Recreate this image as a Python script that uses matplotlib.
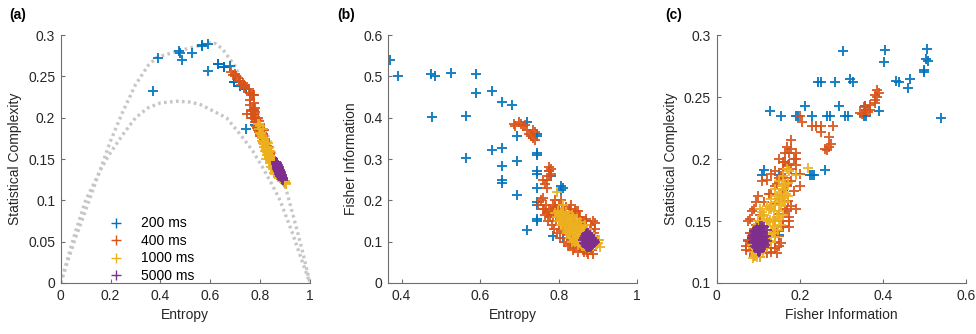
import matplotlib.pyplot as plt
from matplotlib.ticker import FixedLocator

plt.rcParams['font.family'] = ['Liberation Sans', 'DejaVu Sans']
plt.rcParams['font.size'] = 10

# boundary curves of the complexity-entropy plane
upper_h = [0, 0.03, 0.06, 0.1, 0.15, 0.2, 0.25, 0.3, 0.35, 0.385, 0.45, 0.5, 0.55, 0.6,
           0.62, 0.65, 0.7, 0.75, 0.8, 0.85, 0.9, 0.95, 0.975, 1.0]
upper_c = [0, 0.028, 0.055, 0.088, 0.13, 0.172, 0.208, 0.24, 0.263, 0.273, 0.279, 0.283, 0.287, 0.291,
           0.29, 0.283, 0.262, 0.232, 0.2, 0.165, 0.118, 0.062, 0.032, 0]
lower_h = [0, 0.03, 0.057, 0.1, 0.165, 0.2, 0.25, 0.3, 0.35, 0.4, 0.465, 0.52, 0.56, 0.6, 0.665,
           0.72, 0.77, 0.81, 0.85, 0.88, 0.93, 0.97, 1.0]
lower_c = [0, 0.032, 0.06, 0.1, 0.14, 0.158, 0.18, 0.2, 0.212, 0.218, 0.22, 0.219, 0.216, 0.21, 0.2,
           0.18, 0.16, 0.14, 0.118, 0.1, 0.06, 0.025, 0]

# 200 ms: entropy, statistical complexity, fisher information
h_200 = [0.37, 0.39, 0.475, 0.485, 0.478, 0.525, 0.565, 0.565, 0.59, 0.59, 0.63, 0.63, 0.655, 0.655,
         0.655, 0.655, 0.655, 0.68, 0.695, 0.695, 0.695, 0.72, 0.72, 0.745, 0.745, 0.745, 0.745,
         0.745, 0.745, 0.745, 0.745, 0.745, 0.745, 0.78, 0.785, 0.805, 0.81, 0.805, 0.81, 0.745, 0.87]
c_200 = [0.233, 0.272, 0.281, 0.27, 0.278, 0.279, 0.288, 0.287, 0.289, 0.257, 0.265, 0.265, 0.262, 0.262,
         0.262, 0.262, 0.262, 0.263, 0.243, 0.243, 0.243, 0.239, 0.239, 0.235, 0.235, 0.235, 0.235,
         0.235, 0.235, 0.235, 0.235, 0.235, 0.235, 0.191, 0.191, 0.187, 0.187, 0.187, 0.187, 0.187, 0.139]
f_200 = [0.54, 0.5, 0.505, 0.5, 0.402, 0.508, 0.405, 0.303, 0.507, 0.46, 0.465, 0.322, 0.438, 0.328,
         0.284, 0.25, 0.243, 0.432, 0.357, 0.295, 0.213, 0.39, 0.128, 0.36, 0.355, 0.315, 0.31,
         0.272, 0.265, 0.23, 0.195, 0.19, 0.155, 0.26, 0.113, 0.235, 0.23, 0.225, 0.11, 0.15, 0.15]

# 400 ms
h_400 = [0.685, 0.69, 0.70, 0.705, 0.71, 0.715, 0.72, 0.725, 0.73, 0.735, 0.74, 0.735, 0.74,
         0.755, 0.76, 0.77, 0.765, 0.77, 0.775, 0.775, 0.78, 0.775, 0.78, 0.775, 0.76,
         0.748, 0.760, 0.765, 0.770, 0.772, 0.775, 0.778, 0.780, 0.782, 0.785, 0.788, 0.790, 0.792,
         0.795, 0.798, 0.800, 0.803, 0.806, 0.810, 0.813, 0.816, 0.820, 0.824, 0.828, 0.832, 0.836,
         0.840, 0.845, 0.850, 0.855, 0.860, 0.865, 0.870, 0.875, 0.880, 0.885, 0.890, 0.895, 0.900,
         0.790, 0.795, 0.800, 0.805, 0.808, 0.812, 0.818, 0.822, 0.826, 0.830, 0.834, 0.838, 0.842,
         0.848, 0.852, 0.858, 0.862, 0.868, 0.872, 0.878, 0.882, 0.887, 0.892, 0.850, 0.840, 0.830,
         0.820, 0.810, 0.815, 0.800, 0.893, 0.888, 0.762, 0.768, 0.785, 0.790,
         0.828, 0.832, 0.805, 0.845, 0.855, 0.870]
c_400 = [0.256, 0.252, 0.253, 0.25, 0.248, 0.245, 0.244, 0.24, 0.242, 0.24, 0.238, 0.236, 0.237,
         0.235, 0.23, 0.227, 0.227, 0.227, 0.227, 0.218, 0.212, 0.208, 0.207, 0.21, 0.222,
         0.205, 0.215, 0.205, 0.210, 0.200, 0.205, 0.198, 0.195, 0.190, 0.198, 0.188, 0.192, 0.185,
         0.183, 0.180, 0.178, 0.182, 0.175, 0.172, 0.170, 0.168, 0.165, 0.160, 0.158, 0.155, 0.152,
         0.150, 0.147, 0.145, 0.140, 0.138, 0.135, 0.133, 0.130, 0.128, 0.126, 0.124, 0.122, 0.121,
         0.200, 0.196, 0.188, 0.186, 0.182, 0.178, 0.174, 0.170, 0.166, 0.164, 0.160, 0.156, 0.153,
         0.150, 0.146, 0.142, 0.140, 0.136, 0.134, 0.131, 0.128, 0.127, 0.125, 0.150, 0.158, 0.165,
         0.172, 0.180, 0.185, 0.192, 0.124, 0.130, 0.208, 0.200, 0.195, 0.188,
         0.162, 0.160, 0.178, 0.150, 0.145, 0.132]
f_400 = [0.385, 0.38, 0.39, 0.385, 0.38, 0.382, 0.37, 0.36, 0.355, 0.37, 0.365, 0.35, 0.345,
         0.2, 0.205, 0.23, 0.24, 0.25, 0.28, 0.27, 0.275, 0.26, 0.265, 0.27, 0.25,
         0.19, 0.18, 0.165, 0.170, 0.150, 0.175, 0.160, 0.172, 0.140, 0.165, 0.130, 0.178, 0.150,
         0.120, 0.165, 0.140, 0.110, 0.160, 0.125, 0.100, 0.150, 0.115, 0.090, 0.170, 0.105, 0.080,
         0.160, 0.095, 0.175, 0.085, 0.150, 0.075, 0.140, 0.070, 0.130, 0.080, 0.120, 0.090, 0.105,
         0.185, 0.175, 0.190, 0.155, 0.180, 0.170, 0.185, 0.160, 0.172, 0.140, 0.165, 0.150, 0.175,
         0.140, 0.160, 0.145, 0.080, 0.085, 0.075, 0.080, 0.140, 0.070, 0.130, 0.075, 0.085, 0.095,
         0.130, 0.145, 0.165, 0.160, 0.145, 0.150, 0.180, 0.190, 0.190, 0.200,
         0.180, 0.190, 0.200, 0.175, 0.160, 0.155]

# 1000 ms
h_1000 = [0.790, 0.795, 0.798, 0.800, 0.803, 0.806, 0.808, 0.810, 0.812, 0.815, 0.817, 0.820, 0.822,
          0.825, 0.827, 0.830, 0.832, 0.835, 0.837, 0.840, 0.842, 0.845, 0.847, 0.850, 0.852, 0.855,
          0.857, 0.860, 0.862, 0.865, 0.868, 0.870, 0.873, 0.876, 0.880, 0.884, 0.888, 0.892, 0.896,
          0.900, 0.904, 0.833, 0.795, 0.810, 0.845, 0.855, 0.825, 0.838,
          0.805, 0.812, 0.818, 0.822, 0.826, 0.828, 0.831, 0.834, 0.836, 0.839, 0.841, 0.843, 0.846,
          0.848, 0.851, 0.853, 0.856, 0.858, 0.861, 0.863, 0.866, 0.869, 0.871, 0.874, 0.877, 0.879,
          0.882, 0.886, 0.890, 0.894, 0.898, 0.902, 0.835, 0.828, 0.820, 0.815, 0.808, 0.850, 0.860,
          0.870]
c_1000 = [0.192, 0.186, 0.190, 0.182, 0.180, 0.176, 0.178, 0.172, 0.170, 0.168, 0.171, 0.165, 0.162,
          0.163, 0.158, 0.157, 0.160, 0.153, 0.152, 0.150, 0.148, 0.149, 0.145, 0.143, 0.146, 0.140,
          0.139, 0.138, 0.141, 0.135, 0.134, 0.132, 0.130, 0.131, 0.128, 0.127, 0.125, 0.124, 0.122,
          0.121, 0.120, 0.170, 0.193, 0.187, 0.140, 0.133, 0.150, 0.160,
          0.181, 0.176, 0.170, 0.168, 0.165, 0.161, 0.163, 0.158, 0.155, 0.154, 0.152, 0.151, 0.147,
          0.146, 0.145, 0.143, 0.142, 0.140, 0.139, 0.137, 0.137, 0.135, 0.133, 0.132, 0.130, 0.130,
          0.128, 0.126, 0.126, 0.124, 0.123, 0.121, 0.150, 0.155, 0.160, 0.165, 0.172, 0.138, 0.132,
          0.128]
f_1000 = [0.170, 0.160, 0.175, 0.150, 0.165, 0.140, 0.158, 0.168, 0.145, 0.130, 0.155, 0.160, 0.120,
          0.140, 0.150, 0.110, 0.130, 0.145, 0.120, 0.135, 0.100, 0.125, 0.140, 0.115, 0.105, 0.130,
          0.095, 0.120, 0.110, 0.090, 0.125, 0.100, 0.115, 0.085, 0.095, 0.108, 0.090, 0.100, 0.092,
          0.098, 0.088, 0.165, 0.220, 0.190, 0.110, 0.125, 0.120, 0.105,
          0.172, 0.162, 0.172, 0.150, 0.165, 0.128, 0.155, 0.138, 0.160, 0.110, 0.150, 0.128, 0.155,
          0.135, 0.098, 0.148, 0.112, 0.138, 0.128, 0.105, 0.140, 0.112, 0.130, 0.095, 0.122, 0.105,
          0.115, 0.100, 0.112, 0.105, 0.095, 0.104, 0.100, 0.115, 0.125, 0.140, 0.150, 0.092, 0.090,
          0.088]

# 5000 ms
h_5000 = [0.863, 0.865, 0.865, 0.867, 0.867, 0.867, 0.869, 0.869, 0.869, 0.869,
          0.871, 0.871, 0.871, 0.871, 0.873, 0.873, 0.873, 0.873, 0.875, 0.875, 0.875, 0.875,
          0.877, 0.877, 0.877, 0.877, 0.879, 0.879, 0.879, 0.879, 0.881, 0.881, 0.881, 0.881,
          0.883, 0.883, 0.883, 0.885, 0.885, 0.885, 0.887, 0.887, 0.887, 0.889, 0.889,
          0.891, 0.891, 0.893]
c_5000 = [0.146, 0.144, 0.146, 0.143, 0.141, 0.145, 0.142, 0.140, 0.144, 0.138,
          0.141, 0.139, 0.137, 0.143, 0.139, 0.137, 0.141, 0.135, 0.138, 0.136, 0.140, 0.134,
          0.136, 0.134, 0.138, 0.132, 0.135, 0.133, 0.137, 0.131, 0.133, 0.131, 0.135, 0.129,
          0.132, 0.130, 0.134, 0.130, 0.128, 0.132, 0.129, 0.127, 0.131, 0.128, 0.126,
          0.127, 0.125, 0.126]
f_5000 = [0.104, 0.098, 0.110, 0.094, 0.105, 0.114, 0.090, 0.100, 0.110, 0.118,
          0.092, 0.103, 0.113, 0.121, 0.088, 0.097, 0.107, 0.116, 0.090, 0.100, 0.110, 0.120,
          0.086, 0.095, 0.105, 0.114, 0.089, 0.099, 0.109, 0.117, 0.087, 0.096, 0.106, 0.113,
          0.090, 0.100, 0.110, 0.092, 0.103, 0.108, 0.094, 0.101, 0.098, 0.096, 0.104,
          0.099, 0.102, 0.100]

labels = ['200 ms', '400 ms', '1000 ms', '5000 ms']
colors = ['#0072BD', '#D95319', '#EDB120', '#7E2F8E']
series = [(h_200, c_200, f_200), (h_400, c_400, f_400),
          (h_1000, c_1000, f_1000), (h_5000, c_5000, f_5000)]

fig = plt.figure(figsize=(9.76, 3.34), dpi=100)
ax1 = fig.add_axes([0.0622, 0.1527, 0.2554, 0.742])
ax2 = fig.add_axes([0.3978, 0.1527, 0.2551, 0.742])
ax3 = fig.add_axes([0.7343, 0.1527, 0.2554, 0.742])

dots = (0, (0.8, 1.0))
ax1.plot(upper_h, upper_c, color='#c6c6c6', lw=2.4, ls=dots)
ax1.plot(lower_h, lower_c, color='#c6c6c6', lw=2.4, ls=dots)

handles = []
for (h, c, f), col, lab in zip(series, colors, labels):
    kw = dict(ls='none', marker='+', ms=7.5, mew=1.4, color=col, alpha=0.9)
    line, = ax1.plot(h, c, label=lab, **kw)
    ax2.plot(h, f, **kw)
    ax3.plot(f, c, **kw)
    handles.append(line)

ax1.set_xlim(0, 1)
ax1.set_ylim(0, 0.3)
ax1.xaxis.set_major_locator(FixedLocator([0, 0.2, 0.4, 0.6, 0.8, 1]))
ax1.set_xticklabels(['0', '0.2', '0.4', '0.6', '0.8', '1'])
ax1.yaxis.set_major_locator(FixedLocator([0, 0.05, 0.1, 0.15, 0.2, 0.25, 0.3]))
ax1.set_yticklabels(['0', '0.05', '0.1', '0.15', '0.2', '0.25', '0.3'])
ax1.set_xlabel('Entropy')
ax1.set_ylabel('Statistical Complexity')

ax2.set_xlim(0.366, 1)
ax2.set_ylim(0, 0.6)
ax2.xaxis.set_major_locator(FixedLocator([0.4, 0.6, 0.8, 1]))
ax2.set_xticklabels(['0.4', '0.6', '0.8', '1'])
ax2.yaxis.set_major_locator(FixedLocator([0, 0.1, 0.2, 0.3, 0.4, 0.5, 0.6]))
ax2.set_yticklabels(['0', '0.1', '0.2', '0.3', '0.4', '0.5', '0.6'])
ax2.set_xlabel('Entropy')
ax2.set_ylabel('Fisher Information')

ax3.set_xlim(0, 0.6)
ax3.set_ylim(0.1, 0.3)
ax3.xaxis.set_major_locator(FixedLocator([0, 0.2, 0.4, 0.6]))
ax3.set_xticklabels(['0', '0.2', '0.4', '0.6'])
ax3.yaxis.set_major_locator(FixedLocator([0.1, 0.15, 0.2, 0.25, 0.3]))
ax3.set_yticklabels(['0.1', '0.15', '0.2', '0.25', '0.3'])
ax3.set_xlabel('Fisher Information')
ax3.set_ylabel('Statistical Complexity')

for ax, tag in zip([ax1, ax2, ax3], ['(a)', '(b)', '(c)']):
    for side in ['top', 'right']:
        ax.spines[side].set_visible(False)
    for side in ['left', 'bottom']:
        ax.spines[side].set_color('#6e6e6e')
        ax.spines[side].set_linewidth(0.8)
    ax.tick_params(direction='in', length=3, width=0.8, color='#6e6e6e', labelcolor='#262626',
                   labelsize=10, pad=4)
    ax.xaxis.label.set_color('#262626')
    ax.yaxis.label.set_color('#262626')
    ax.text(-0.205, 1.08, tag, transform=ax.transAxes, fontweight='bold', fontsize=10,
            ha='left', va='center')

leg = ax1.legend(handles=handles, loc='lower left', bbox_to_anchor=(0.14, -0.05), frameon=False,
                 handlelength=1.2, handletextpad=1.2, labelspacing=0.25, fontsize=10)
for lh in leg.legend_handles:
    lh.set_alpha(1)
    lh.set_markeredgewidth(1.0)

fig.savefig('out.png', dpi=100)
